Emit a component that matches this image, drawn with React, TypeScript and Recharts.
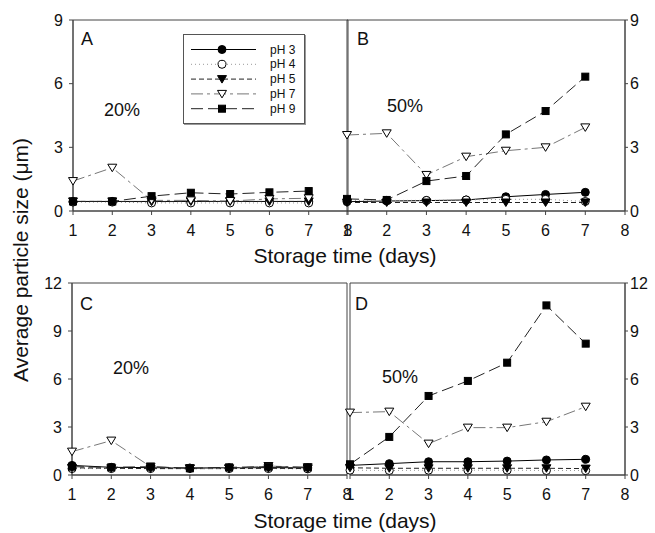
import React from 'react';
import { LineChart, Line, XAxis, YAxis, Legend, ReferenceArea } from 'recharts';

// storage days
const days = [1, 2, 3, 4, 5, 6, 7];
const xTicks = [1, 2, 3, 4, 5, 6, 7, 8];
const yTicksTop = [0, 3, 6, 9];
const yTicksBottom = [0, 3, 6, 9, 12];

// panel A (20%, top)
const aPH3 = [0.45, 0.45, 0.45, 0.45, 0.45, 0.45, 0.45];
const aPH4 = [0.42, 0.42, 0.38, 0.38, 0.38, 0.38, 0.38];
const aPH5 = [0.45, 0.45, 0.44, 0.45, 0.45, 0.45, 0.45];
const aPH7 = [1.41, 2.04, 0.5, 0.5, 0.47, 0.57, 0.6];
const aPH9 = [0.45, 0.45, 0.7, 0.86, 0.8, 0.88, 0.94];

// panel B (50%, top)
const bPH3 = [0.44, 0.47, 0.49, 0.52, 0.67, 0.78, 0.88];
const bPH4 = [0.5, 0.5, 0.5, 0.52, 0.55, 0.55, 0.45];
const bPH5 = [0.4, 0.4, 0.4, 0.4, 0.4, 0.4, 0.4];
const bPH7 = [3.58, 3.66, 1.7, 2.56, 2.84, 3.0, 3.94];
const bPH9 = [0.57, 0.52, 1.41, 1.65, 3.61, 4.71, 6.33];

// panel C (20%, bottom)
const cPH3 = [0.6, 0.48, 0.46, 0.44, 0.45, 0.46, 0.45];
const cPH4 = [0.4, 0.4, 0.4, 0.4, 0.4, 0.4, 0.38];
const cPH5 = [0.45, 0.42, 0.4, 0.4, 0.4, 0.42, 0.4];
const cPH7 = [1.46, 2.15, 0.52, 0.42, 0.42, 0.56, 0.48];
const cPH9 = [0.52, 0.48, 0.52, 0.42, 0.48, 0.52, 0.48];

// panel D (50%, bottom)
const dPH3 = [0.6, 0.71, 0.83, 0.83, 0.87, 0.94, 0.98];
const dPH4 = [0.3, 0.28, 0.3, 0.3, 0.3, 0.28, 0.28];
const dPH5 = [0.45, 0.42, 0.42, 0.42, 0.42, 0.42, 0.4];
const dPH7 = [3.9, 3.96, 1.96, 2.96, 2.96, 3.33, 4.27];
const dPH9 = [0.67, 2.38, 4.94, 5.88, 7.02, 10.6, 8.21];

const series = [
  { key: 'p3', name: 'pH 3', stroke: '#000', dash: undefined, marker: 'circle', fill: '#000' },
  { key: 'p4', name: 'pH 4', stroke: '#999', dash: '1 3', marker: 'circle', fill: '#fff' },
  { key: 'p5', name: 'pH 5', stroke: '#222', dash: '5 3', marker: 'triangle', fill: '#000' },
  { key: 'p7', name: 'pH 7', stroke: '#777', dash: '12 4 3 4', marker: 'triangle', fill: '#fff' },
  { key: 'p9', name: 'pH 9', stroke: '#222', dash: '12 5', marker: 'square', fill: '#000' },
];

const build = (p3: number[], p4: number[], p5: number[], p7: number[], p9: number[]) =>
  days.map((d, i) => ({ day: d, p3: p3[i], p4: p4[i], p5: p5[i], p7: p7[i], p9: p9[i] }));

const dataA = build(aPH3, aPH4, aPH5, aPH7, aPH9);
const dataB = build(bPH3, bPH4, bPH5, bPH7, bPH9);
const dataC = build(cPH3, cPH4, cPH5, cPH7, cPH9);
const dataD = build(dPH3, dPH4, dPH5, dPH7, dPH9);

const axisColor = '#444';
const tickStyle = { fill: '#111', fontSize: 16 };

const Marker = ({ cx, cy, type, fill }: any) => {
  if (cx == null || cy == null) return null;
  if (type === 'circle') return <circle cx={cx} cy={cy} r={4} fill={fill} stroke="#000" strokeWidth={1} />;
  if (type === 'square') return <rect x={cx - 3.5} y={cy - 3.5} width={7} height={7} fill={fill} stroke="#000" strokeWidth={1} />;
  return (
    <polygon
      points={`${cx - 4.5},${cy - 3.5} ${cx + 4.5},${cy - 3.5} ${cx},${cy + 4}`}
      fill={fill}
      stroke="#000"
      strokeWidth={1}
    />
  );
};

const LegendBox = () => (
  <div style={{ width: 122, height: 90, border: '1px solid #555', boxShadow: '1px 1px 0 #999', background: '#fff', boxSizing: 'border-box' }}>
    <svg width={120} height={88} style={{ display: 'block' }}>
      {series.map((s, i) => {
        const y = 14.5 + i * 14.8;
        return (
          <g key={s.key}>
            <line x1={7} x2={72} y1={y} y2={y} stroke={s.stroke} strokeDasharray={s.dash} strokeWidth={1} />
            <Marker cx={38} cy={y} type={s.marker} fill={s.fill} />
            <text x={86} y={y + 4} fontSize={12} fill="#111">{s.name}</text>
          </g>
        );
      })}
    </svg>
  </div>
);

const renderLines = (yId: string) =>
  series.map((s) => (
    <Line
      key={s.key}
      xAxisId="b"
      yAxisId={yId}
      dataKey={s.key}
      name={s.name}
      stroke={s.stroke}
      strokeDasharray={s.dash}
      strokeWidth={1}
      isAnimationActive={false}
      dot={(p: any) => <Marker key={`${s.key}-${p.index}`} cx={p.cx} cy={p.cy} type={s.marker} fill={s.fill} />}
      activeDot={false}
    />
  ));

interface PanelProps {
  data: any[];
  left: number;
  top: number;
  width: number;
  height: number;
  margin: any;
  labelsRight: boolean;
  yMax: number;
  yTicks: number[];
  xHeight: number;
  legend?: boolean;
}

const Panel = ({ data, left, top, width, height, margin, labelsRight, yMax, yTicks, xHeight, legend }: PanelProps) => {
  const yId = labelsRight ? 'r' : 'l';
  return (
    <div style={{ position: 'absolute', left, top }}>
      <LineChart width={width} height={height} data={data} margin={margin}>
        <XAxis
          xAxisId="b"
          type="number"
          dataKey="day"
          domain={[1, 8]}
          ticks={xTicks}
          interval={0}
          height={xHeight}
          tickSize={4}
          tickMargin={10}
          stroke={axisColor}
          tick={tickStyle}
        />
        <YAxis
          yAxisId={yId}
          orientation={labelsRight ? 'right' : 'left'}
          type="number"
          domain={[0, yMax]}
          ticks={yTicks}
          interval={0}
          width={labelsRight ? 30 : 72}
          tick={tickStyle}
          tickSize={labelsRight ? 3 : 4}
          tickMargin={labelsRight ? 2 : 6}
          stroke={axisColor}
        />
        <ReferenceArea
          xAxisId="b"
          yAxisId={yId}
          x1={1}
          x2={8}
          y1={0}
          y2={yMax}
          fill="none"
          fillOpacity={0}
          stroke={axisColor}
          strokeWidth={1}
          ifOverflow="visible"
        />
        {legend && (
          <Legend
            layout="vertical"
            align="center"
            verticalAlign="middle"
            content={() => <LegendBox />}
            wrapperStyle={{ left: 183, top: 34, width: 122, height: 90 }}
          />
        )}
        {renderLines(yId)}
      </LineChart>
    </div>
  );
};

export default function App() {
  return (
    <div style={{ position: 'absolute', left: 0, top: 0, width: 655, height: 533, background: '#fff', fontFamily: '"Liberation Sans", Arial, sans-serif' }}>
      <Panel data={dataA} left={0} top={0} width={360} height={245} margin={{ top: 20, right: 12, left: 1, bottom: 0 }} labelsRight={false} yMax={9} yTicks={yTicksTop} xHeight={34} legend />
      <Panel data={dataB} left={330} top={0} width={325} height={245} margin={{ top: 20, right: 0, left: 17, bottom: 0 }} labelsRight yMax={9} yTicks={yTicksTop} xHeight={34} />
      <Panel data={dataC} left={0} top={260} width={360} height={250} margin={{ top: 23, right: 13, left: 0, bottom: 0 }} labelsRight={false} yMax={12} yTicks={yTicksBottom} xHeight={35} />
      <Panel data={dataD} left={330} top={260} width={325} height={250} margin={{ top: 23, right: 0, left: 20, bottom: 0 }} labelsRight yMax={12} yTicks={yTicksBottom} xHeight={35} />
      <svg width={655} height={533} style={{ position: 'absolute', left: 0, top: 0, pointerEvents: 'none' }}>
        <g fill="#111" fontSize={18}>
          <text x={81} y={45}>A</text>
          <text x={357} y={45}>B</text>
          <text x={80} y={310}>C</text>
          <text x={355} y={310}>D</text>
          <text x={104} y={116}>20%</text>
          <text x={387} y={112}>50%</text>
          <text x={113} y={374}>20%</text>
          <text x={382} y={383}>50%</text>
        </g>
        <g fill="#111" fontSize={21} textAnchor="middle">
          <text x={345} y={263}>Storage time (days)</text>
          <text x={345} y={528}>Storage time (days)</text>
          <text x={28} y={260} transform="rotate(-90 28 260)">Average particle size (μm)</text>
        </g>
      </svg>
    </div>
  );
}
